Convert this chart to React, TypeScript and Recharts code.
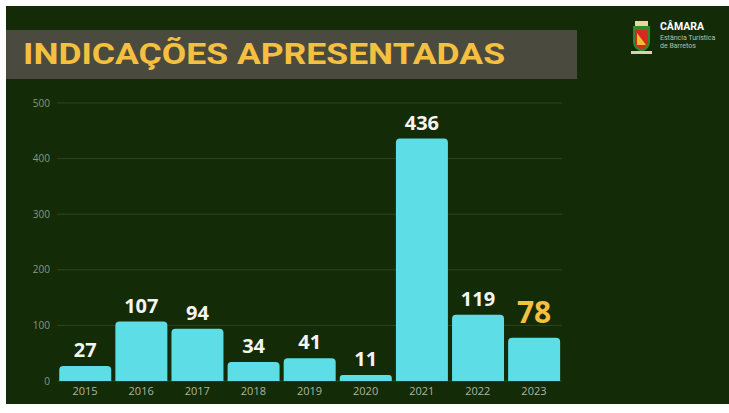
import React from 'react';
import { BarChart, Bar, XAxis, YAxis, CartesianGrid, LabelList } from 'recharts';

const years = ['2015', '2016', '2017', '2018', '2019', '2020', '2021', '2022', '2023'];
const indicacoes = [27, 107, 94, 34, 41, 11, 436, 119, 78];
const yTicks = [0, 100, 200, 300, 400, 500];

const data = years.map((ano, i) => ({ ano, total: indicacoes[i] }));

const BG = '#132b06';
const BAR = '#5ddde6';
const YELLOW = '#f5c040';

// last year gets the big yellow label
const ValueLabel = (props: any) => {
    const { x, y, width, value, index } = props;
    const last = index === indicacoes.length - 1;
    return (
        <text
            x={x + width / 2}
            y={y - (last ? 15 : 9)}
            textAnchor="middle"
            fill={last ? YELLOW : '#f4f4f0'}
            fontSize={last ? 30 : 20}
            fontWeight={700}
            fontFamily="'Open Sans', sans-serif"
        >
            {value}
        </text>
    );
};

const Logo = () => (
    <svg width={110} height={40} style={{ position: 'absolute', left: 626, top: 18 }}>
        <path d="M7 8 L24 8 L24 24 Q24 31 15.5 34 Q7 31 7 24 Z" fill="#2f8a2a" />
        <path d="M9 12 L22 12 L22 24 Q22 29 15.5 31.5 Q9 29 9 24 Z" fill="#d32a22" />
        <path d="M11 15 L20 27 L11 27 Z" fill="#f0c030" />
        <rect x={9} y={3} width={13} height={5} fill="#e8d8a0" />
        <rect x={5} y={33} width={21} height={3} fill="#d8d0b8" />
        <text x={34} y={12} fill="#ffffff" fontSize={10.5} fontWeight={700} fontFamily="Roboto, sans-serif">CÂMARA</text>
        <text x={34} y={22} fill="#b8c0ae" fontSize={7} fontFamily="Roboto, sans-serif">Estância Turística</text>
        <text x={34} y={30} fill="#b8c0ae" fontSize={7} fontFamily="Roboto, sans-serif">de Barretos</text>
    </svg>
);

export default function App() {
    return (
        <div style={{ position: 'absolute', left: 0, top: 0, width: 729, height: 413, background: '#ffffff', overflow: 'hidden' }}>
            <div style={{ position: 'absolute', left: 6, top: 6, width: 723, height: 398, background: BG }} />
            <div style={{ position: 'absolute', left: 6, top: 30, width: 571, height: 49, background: '#4b4a3f' }} />
            <svg width={729} height={90} style={{ position: 'absolute', left: 0, top: 0 }}>
                <text
                    x={23}
                    y={64}
                    textLength={482}
                    lengthAdjust="spacingAndGlyphs"
                    fill={YELLOW}
                    fontSize={29}
                    fontWeight={700}
                    fontFamily="Roboto, sans-serif"
                >
                    INDICAÇÕES APRESENTADAS
                </text>
            </svg>
            <Logo />
            <div style={{ position: 'absolute', left: 0, top: 0 }}>
                <BarChart
                    width={729}
                    height={413}
                    data={data}
                    margin={{ top: 103, right: 167, bottom: 8, left: 17 }}
                    barCategoryGap="4%"
                >
                    <CartesianGrid vertical={false} stroke="#2f4326" strokeWidth={1} />
                    <XAxis
                        dataKey="ano"
                        height={24}
                        axisLine={false}
                        tickLine={false}
                        tickSize={0}
                        tickMargin={6}
                        tick={{ fill: '#aeb6a2', fontSize: 11, fontFamily: "'Open Sans', sans-serif" }}
                    />
                    <YAxis
                        width={40}
                        domain={[0, 500]}
                        ticks={yTicks}
                        axisLine={false}
                        tickLine={false}
                        tickSize={0}
                        tickMargin={7}
                        tick={{ fill: '#8a9680', fontSize: 10, fontFamily: "'Open Sans', sans-serif" }}
                    />
                    <Bar dataKey="total" fill={BAR} radius={[4, 4, 0, 0]} isAnimationActive={false}>
                        <LabelList dataKey="total" content={<ValueLabel />} />
                    </Bar>
                </BarChart>
            </div>
        </div>
    );
}
